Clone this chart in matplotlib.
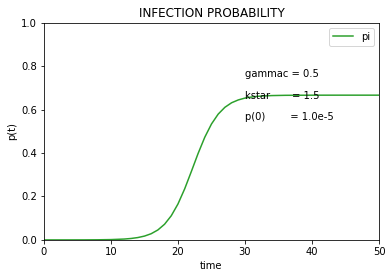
import numpy as np
import matplotlib
matplotlib.use("Agg")
import matplotlib.pyplot as plt

# values
time = [0, 2, 4, 6, 8, 10, 12, 13, 14, 15, 16, 17, 18, 19, 20, 21, 22, 23,
        24, 25, 26, 27, 28, 29, 30, 31, 32, 34, 36, 40, 45, 50]
pi = [0.0, 0.00003, 0.00007, 0.0002, 0.00055, 0.0015, 0.004, 0.0066, 0.0108,
      0.0176, 0.0285, 0.0458, 0.0722, 0.1113, 0.1655, 0.2351, 0.3154, 0.3979,
      0.4730, 0.5340, 0.5794, 0.6108, 0.6317, 0.6448, 0.6533, 0.6583, 0.6617,
      0.6648, 0.6660, 0.6666, 0.6667, 0.6667]

params = ["gammac = 0.5", "kstar       = 1.5", "p(0)        = 1.0e-5"]
param_y = [0.75, 0.65, 0.55]

fig = plt.figure(figsize=(392 / 72, 278 / 72), dpi=72)
ax = fig.add_axes([0.112, 0.137, 0.855, 0.781])
ax.plot(time, pi, color="tab:green", label="pi")
for s, y in zip(params, param_y):
    ax.text(30, y, s)
ax.set_xlim(0, 50)
ax.set_ylim(0, 1)
ax.set_title("INFECTION PROBABILITY")
ax.set_xlabel("time")
ax.set_ylabel("p(t)")
ax.legend(loc="upper right")
fig.savefig("out.png", dpi=72)
